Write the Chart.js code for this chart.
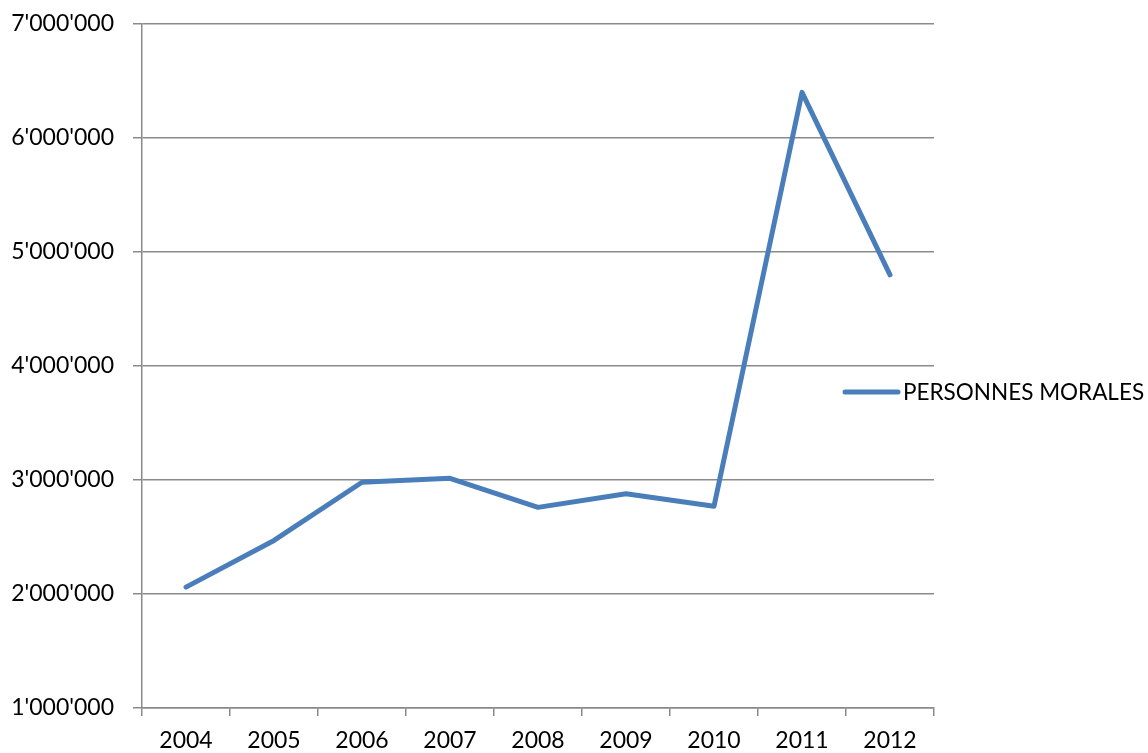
<!DOCTYPE html>
<html>
<head>
<meta charset="utf-8">
<script src="https://cdn.jsdelivr.net/npm/chart.js@4/dist/chart.umd.min.js"></script>
<style>
  html, body { margin: 0; padding: 0; background: #ffffff; }
  #wrap { width: 1148px; height: 753px; }
</style>
</head>
<body>
<div id="wrap"><canvas id="c" width="1148" height="753"></canvas></div>
<script>
// Years on the category axis
const years = ['2004', '2005', '2006', '2007', '2008', '2009', '2010', '2011', '2012'];
// Amounts per year
const personnesMorales = [2060000, 2470000, 2980000, 3015000, 2760000, 2880000, 2770000, 6400000, 4800000];
const seriesLabel = 'PERSONNES MORALES';
// Value axis range and step
const yMin = 1000000;
const yMax = 7000000;
const yStep = 1000000;

const FONT = 'Lato, "Open Sans", "Liberation Sans", sans-serif';
const LINE_COLOR = '#4A7EBB';
const GRID_COLOR = '#8a8a8a';

function withApostrophes(v) {
  return String(Math.round(v)).replace(/\B(?=(\d{3})+(?!\d))/g, "'");
}

// Draws the single series key at the right-hand side
const sideLegend = {
  id: 'sideLegend',
  afterDraw(chart) {
    const { ctx, chartArea } = chart;
    const ds = chart.data.datasets[0];
    const y = (chartArea.top + chartArea.bottom) / 2 + 26;
    const x0 = chartArea.right - 89;
    ctx.save();
    ctx.strokeStyle = ds.borderColor;
    ctx.lineWidth = 5;
    ctx.lineCap = 'round';
    ctx.beginPath();
    ctx.moveTo(x0, y);
    ctx.lineTo(x0 + 53, y);
    ctx.stroke();
    ctx.fillStyle = '#000000';
    ctx.font = '22.5px ' + FONT;
    ctx.textAlign = 'left';
    ctx.textBaseline = 'middle';
    ctx.fillText(ds.label, x0 + 58, y + 1);
    ctx.restore();
  }
};

new Chart(document.getElementById('c'), {
  type: 'line',
  data: {
    labels: years,
    datasets: [{
      label: seriesLabel,
      data: personnesMorales,
      borderColor: LINE_COLOR,
      backgroundColor: LINE_COLOR,
      borderWidth: 5,
      borderJoinStyle: 'round',
      borderCapStyle: 'round',
      pointRadius: 0,
      tension: 0,
      fill: false
    }]
  },
  options: {
    responsive: false,
    animation: false,
    devicePixelRatio: 1,
    layout: { padding: { top: 24, right: 214, bottom: 0, left: 0 } },
    plugins: {
      legend: { display: false },
      tooltip: { enabled: false }
    },
    scales: {
      x: {
        offset: true,
        grid: {
          offset: true,
          drawOnChartArea: false,
          drawTicks: true,
          tickLength: 8,
          color: GRID_COLOR,
          lineWidth: 1.5
        },
        border: { display: true, color: GRID_COLOR, width: 1.5 },
        ticks: {
          color: '#000000',
          font: { family: FONT, size: 23 },
          padding: 11,
          maxRotation: 0,
          autoSkip: false
        },
        afterFit(scale) { scale.height = 45; }
      },
      y: {
        min: yMin,
        max: yMax,
        grid: {
          drawTicks: true,
          tickLength: 9,
          color: GRID_COLOR,
          lineWidth: 1.5
        },
        border: { display: true, color: GRID_COLOR, width: 1.5 },
        ticks: {
          stepSize: yStep,
          color: '#000000',
          font: { family: FONT, size: 23 },
          padding: 19,
          callback: (v) => withApostrophes(v)
        },
        afterFit(scale) {
          scale.width = 142;
          scale.paddingTop = 0;
          scale.paddingBottom = 0;
        }
      }
    }
  },
  plugins: [sideLegend]
});
</script>
</body>
</html>
